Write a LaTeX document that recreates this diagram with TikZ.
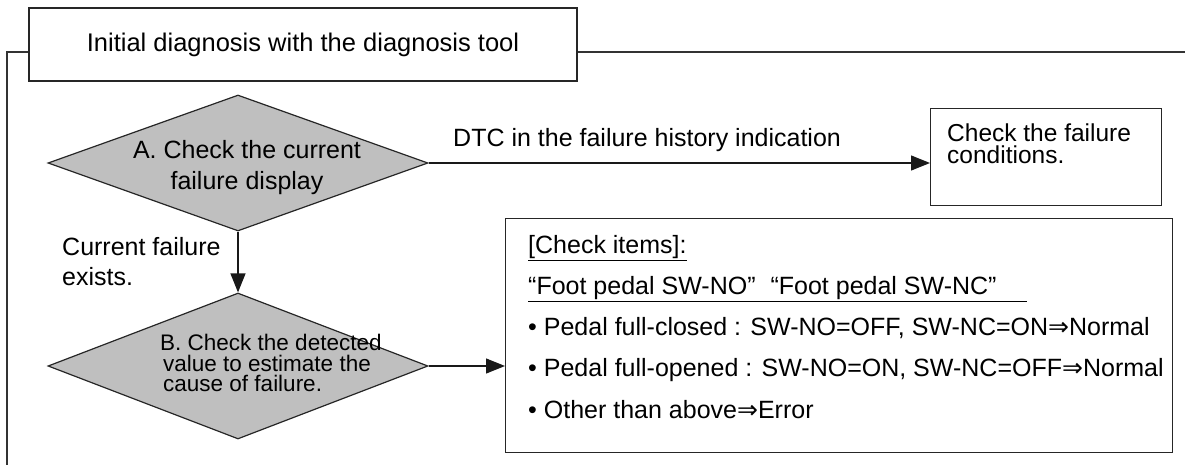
\documentclass[tikz,border=0pt]{standalone}
\usepackage{fontspec}
\setmainfont{Liberation Sans}
\newfontfamily\arrowfont{DejaVu Sans}
\usetikzlibrary{shapes.geometric, arrows.meta, positioning}
\newcommand{\toarrow}{{\arrowfont ⇒}}

\begin{document}
\begin{tikzpicture}[
    x=1pt, y=-1pt,
    every node/.style={font=\fontsize{25}{30}\selectfont},
    block/.style={rectangle, draw=black!85, line width=1.2pt, inner sep=0pt},
    decision/.style={diamond, draw=black!85, fill=black!25, line width=1.2pt, minimum width=380pt, inner sep=0pt},
    arrow/.style={-{Triangle[length=19pt,width=15pt]}, line width=1.2pt, draw=black!90},
    frame/.style={draw=black!80, line width=1.2pt}
]
    \useasboundingbox (0,0) rectangle (1185,465);

    \node[block, minimum width=548pt, minimum height=73pt, font=\fontsize{25.5}{30}\selectfont] (title) at (303,44.5) {Initial diagnosis with the diagnosis tool};
    \coordinate (frameL) at (7,465);
    \coordinate (frameR) at (1185,52);
    \draw[frame] (frameL) |- ([yshift=-7.5pt]title.west);
    \draw[frame] ([yshift=-7.5pt]title.east) -- (frameR);

    % decisions
    \node[decision, minimum height=136pt] (chkA) at (238,163) {};
    \node[align=center, inner sep=0pt, font=\fontsize{25}{31}\selectfont] (chkAtext) at (247,167.5) {A. Check the current\\failure display};
    \node[decision, minimum height=146pt] (chkB) at (238,366) {};
    \node[anchor=west, align=left, inner sep=0pt, font=\fontsize{22.5}{20.5}\selectfont] (chkBtext) at (160,363) {B. Check the detected\\\hspace{3pt}value to estimate the\\\hspace{3pt}cause of failure.};

    \node[anchor=west, align=left, inner sep=0pt] (curlbl) at (62,262) {Current failure\\exists.};
    \node[anchor=west, inner sep=0pt] (dtclbl) at (453,140) {DTC in the failure history indication};

    % result boxes
    \node[block, minimum width=231pt, minimum height=97pt, anchor=north west] (cond) at (930,108) {};
    \node[anchor=north west, align=left, inner sep=0pt, font=\fontsize{24.5}{22}\selectfont] (condtext) at (947,124) {Check the failure\\conditions.};

    \node[block, minimum width=667pt, minimum height=234pt, anchor=north west] (items) at (505,218) {};
    \node[anchor=north west, align=left, inner sep=0pt, font=\fontsize{25}{41.2}\selectfont] (itemstext) at (528,235) {%
        \underline{[Check items]:}\\
        \underline{“Foot pedal SW-NO”\hspace{0.6em}“Foot pedal SW-NC”\hspace{1.2em}}\\
        • Pedal full-closed : SW-NO=OFF, SW-NC=ON\toarrow Normal\\
        • Pedal full-opened : SW-NO=ON, SW-NC=OFF\toarrow Normal\\
        • Other than above\toarrow Error};

    \draw[arrow] (chkA.south) -- (chkB.north);
    \draw[arrow] (chkA.east) -- (chkA.east -| cond.west);
    \draw[arrow] (chkB.east) -- (chkB.east -| items.west);
\end{tikzpicture}
\end{document}
